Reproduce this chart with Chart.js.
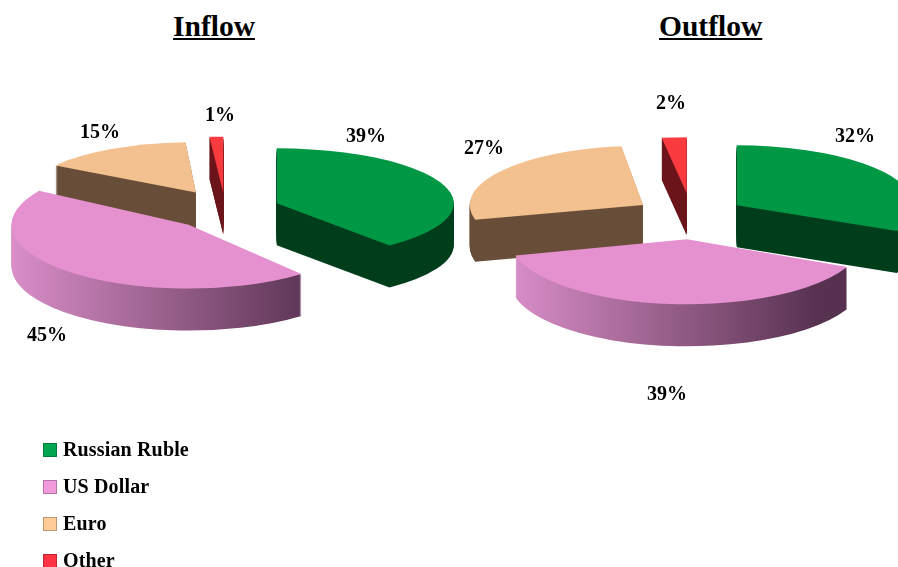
<!DOCTYPE html>
<html>
<head>
<meta charset="utf-8">
<script src="https://cdn.jsdelivr.net/npm/chart.js@4"></script>
<style>
    html, body { margin: 0; padding: 0; background: #fff; overflow: hidden; }
    #wrap { position: relative; width: 898px; height: 567px; overflow: hidden; font-family: "Liberation Serif", serif; font-weight: bold; color: #000; }
    canvas { position: absolute; left: 0; top: 0; }
    .title { position: absolute; top: 9px; font-size: 29.5px; line-height: 34px; text-decoration: underline; text-decoration-thickness: 2px; text-underline-offset: 2px; }
    #legend { position: absolute; left: 43px; top: 431px; }
    .legend-row { display: flex; align-items: center; height: 37px; font-size: 20px; letter-spacing: 0.15px; }
    .swatch { width: 14px; height: 14px; margin-right: 6px; box-sizing: border-box; border: 1px solid rgba(0,0,0,0.25); }
</style>
</head>
<body>
<div id="wrap">
    <div class="title" style="left:173px">Inflow</div>
    <div class="title" style="left:659px">Outflow</div>
    <canvas id="inflowChart" width="898" height="567"></canvas>
    <canvas id="outflowChart" width="898" height="567"></canvas>
    <div id="legend"></div>
</div>
<script>
const currencies = ['Russian Ruble', 'US Dollar', 'Euro', 'Other'];
const inflowValues = [39, 45, 15, 1];
const outflowValues = [32, 39, 27, 2];

const topColors = ['#009845', '#e591cf', '#f3c08f', '#f93a3e'];
const swatchColors = ['#00a550', '#f29bdc', '#ffcc99', '#ff3344'];
// side walls, pink one fades across the slice
const wallColors = [['#003d1b', '#003d1b'], ['#d98ec8', '#573150'], ['#684e38', '#684e38'], ['#6b1419', '#6b1419']];

const depth = 42;

// draws exploded slices with walls, using the arc geometry from the controller
// view[i] fakes the perspective of the original per slice: x scale, y scale, x shift, y shift
const pie3d = {
    id: 'pie3d',
    beforeDatasetsDraw(chart, args, opts) {
        const ctx = chart.ctx;
        const arcs = chart.getDatasetMeta(0).data.map((arc, index) => {
            const mid = (arc.startAngle + arc.endAngle) / 2;
            const [sx, sy, dx, dy] = opts.view[index];
            return {
                index, sx, sy,
                start: arc.startAngle,
                end: arc.endAngle,
                radius: arc.outerRadius,
                x: arc.x + Math.cos(mid) * opts.explode + dx,
                y: arc.y + Math.sin(mid) * opts.explode * sy + dy
            };
        });
        arcs.sort((a, b) => a.y - b.y);

        arcs.forEach(a => {
            const slicePath = () => {
                ctx.beginPath();
                ctx.moveTo(0, 0);
                ctx.arc(0, 0, a.radius, a.start, a.end);
                ctx.closePath();
            };

            const grad = ctx.createLinearGradient(-a.radius, 0, a.radius * 0.75, 0);
            grad.addColorStop(0, wallColors[a.index][0]);
            grad.addColorStop(1, wallColors[a.index][1]);
            for (let i = depth; i >= 0; i--) {
                ctx.save();
                ctx.translate(a.x, a.y + i);
                ctx.scale(a.sx, a.sy);
                ctx.fillStyle = i === 0 ? topColors[a.index] : grad;
                slicePath();
                ctx.fill();
                ctx.restore();
            }
        });
        return false;
    },
    afterDraw(chart, args, opts) {
        const ctx = chart.ctx;
        ctx.save();
        ctx.fillStyle = '#000';
        ctx.font = 'bold 20px "Liberation Serif"';
        ctx.textAlign = 'center';
        ctx.textBaseline = 'middle';
        chart.data.datasets[0].data.forEach((value, i) => {
            ctx.fillText(value + '%', opts.labelSpots[i][0], opts.labelSpots[i][1]);
        });
        ctx.restore();
    }
};

function makePie(id, values, padding, explode, view, labelSpots) {
    return new Chart(document.getElementById(id).getContext('2d'), {
        type: 'pie',
        data: {
            labels: currencies,
            datasets: [{ data: values, backgroundColor: topColors, borderWidth: 0, clip: false }]
        },
        options: {
            responsive: false,
            animation: false,
            radius: 177,
            layout: { padding },
            plugins: {
                legend: { display: false },
                tooltip: { enabled: false },
                pie3d: { explode, view, labelSpots }
            }
        },
        plugins: [pie3d]
    });
}

makePie('inflowChart', inflowValues, { left: 0, right: 448, top: 0, bottom: 149 }, 55,
    [[1, 0.31, 0, 0], [1, 0.36, 0, 1], [0.94, 0.285, -1, -3], [1.25, 0.316, 0, 1]],
    [[366, 137], [47, 336], [100, 133], [220, 116]]);
makePie('outflowChart', outflowValues, { left: 482, right: 0, top: 0, bottom: 135 }, 53,
    [[1, 0.339, 2, -1], [1, 0.367, 2, 4], [0.98, 0.335, -3, -1], [1.13, 0.316, 0, -6]],
    [[855, 137], [667, 395], [484, 149], [671, 104]]);

const legend = document.getElementById('legend');
currencies.forEach((name, i) => {
    const row = document.createElement('div');
    row.className = 'legend-row';
    row.innerHTML = `<span class="swatch" style="background:${swatchColors[i]}"></span>${name}`;
    legend.appendChild(row);
});
</script>
</body>
</html>
